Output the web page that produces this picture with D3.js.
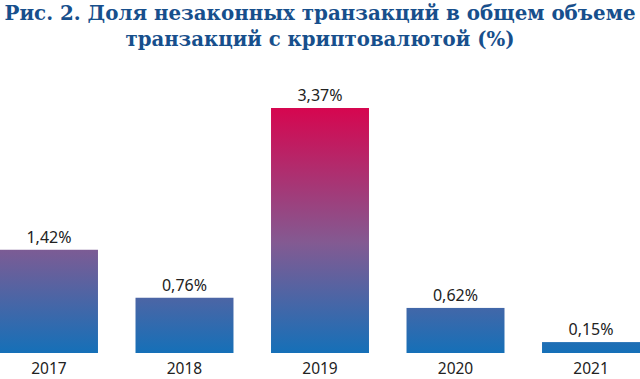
<!DOCTYPE html>
<html>
<head>
<meta charset="utf-8">
<script src="https://cdn.jsdelivr.net/npm/d3@7"></script>
<style>
  body { margin: 0; background: #fff; }
  svg { display: block; }
</style>
</head>
<body>
<div id="chart"></div>
<script>
// data
const years = ["2017", "2018", "2019", "2020", "2021"];
const shares = [1.42, 0.76, 3.37, 0.62, 0.15];
const shareLabels = ["1,42%", "0,76%", "3,37%", "0,62%", "0,15%"];
const titleLines = ["Рис. 2. Доля незаконных транзакций в общем объеме", "транзакций с криптовалютой (%)"];

const width = 640, height = 379;
const baseY = 353;

const svg = d3.select("#chart")
  .append("svg")
  .attr("width", width)
  .attr("height", height);

// gradient spans the whole plot, so short bars stay blue
const defs = svg.append("defs");
const grad = defs.append("linearGradient")
  .attr("id", "barGrad")
  .attr("gradientUnits", "userSpaceOnUse")
  .attr("x1", 0).attr("x2", 0)
  .attr("y1", baseY).attr("y2", 108);
grad.append("stop").attr("offset", "0%").attr("stop-color", "#1570b8");
grad.append("stop").attr("offset", "45%").attr("stop-color", "#835a92");
grad.append("stop").attr("offset", "100%").attr("stop-color", "#d6064f");

const x = d3.scaleBand()
  .domain(years)
  .range([0, width])
  .paddingInner(0.277)
  .paddingOuter(0);

const y = d3.scaleLinear()
  .domain([0, 3.37])
  .range([baseY, 108]);

// title
svg.selectAll(".title")
  .data(titleLines)
  .join("text")
  .attr("class", "title")
  .attr("x", width / 2)
  .attr("y", (d, i) => i === 0 ? 20 : 46)
  .attr("text-anchor", "middle")
  .attr("textLength", (d, i) => i === 0 ? 631 : 389)
  .attr("lengthAdjust", "spacingAndGlyphs")
  .style("font-family", "'DejaVu Serif', serif")
  .style("font-weight", "bold")
  .style("font-size", "20px")
  .style("fill", "#174f8c")
  .text(d => d);

const data = years.map((yr, i) => ({ year: yr, value: shares[i], label: shareLabels[i] }));

svg.selectAll(".bar")
  .data(data)
  .join("rect")
  .attr("class", "bar")
  .attr("x", d => x(d.year))
  .attr("y", d => y(d.value))
  .attr("width", x.bandwidth())
  .attr("height", d => baseY - y(d.value))
  .style("fill", "url(#barGrad)");

svg.selectAll(".val")
  .data(data)
  .join("text")
  .attr("class", "val")
  .attr("x", d => x(d.year) + x.bandwidth() / 2)
  .attr("y", d => y(d.value) - 7)
  .attr("text-anchor", "middle")
  .style("font-family", "'Noto Sans', sans-serif")
  .style("font-size", "16px")
  .style("fill", "#222")
  .text(d => d.label);

// x axis labels (no line)
const xAxis = svg.append("g")
  .attr("transform", `translate(0, ${baseY})`)
  .call(d3.axisBottom(x).tickSize(0).tickPadding(10));
xAxis.select(".domain").remove();
xAxis.selectAll("text")
  .style("font-family", "'Noto Sans', sans-serif")
  .style("font-size", "15.5px")
  .style("fill", "#222");
</script>
</body>
</html>
